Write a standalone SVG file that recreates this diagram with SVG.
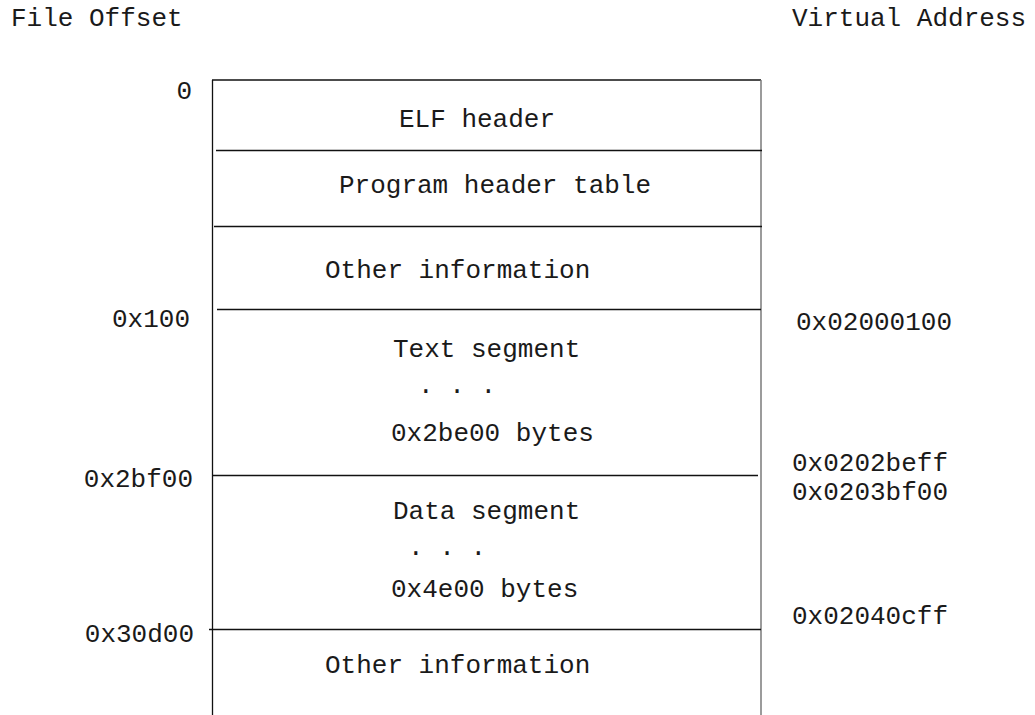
<svg xmlns="http://www.w3.org/2000/svg" width="1035" height="715" viewBox="0 0 1035 715">
<style>
text{font-family:"Liberation Mono","Courier New",monospace;font-size:26px;fill:#1a1a1a}
.end{text-anchor:end}
.sep{stroke:#111;stroke-width:1.3;fill:none}
.rb{stroke:#7a7a7a;stroke-width:1.5;fill:none}
</style>
<rect width="1035" height="715" fill="#fff"/>
<g id="headers">
<text x="11" y="26">File Offset</text>
<text x="792" y="26">Virtual Address</text>
</g>
<g id="connectors">
<line class="sep" x1="212" y1="80" x2="761" y2="80"/>
<line class="sep" x1="212.5" y1="80" x2="212.5" y2="715"/>
<line class="rb" x1="761" y1="80" x2="761" y2="715"/>
<line class="sep" x1="216" y1="150.5" x2="762" y2="150.5"/>
<line class="sep" x1="214" y1="226.5" x2="762" y2="226.5"/>
<line class="sep" x1="217" y1="309.5" x2="761" y2="309.5"/>
<line class="sep" x1="212" y1="475.5" x2="758" y2="475.5"/>
<line class="sep" x1="209" y1="629.5" x2="761" y2="629.5"/>
</g>
<g id="elf-header"><text x="399" y="127">ELF header</text></g>
<g id="program-header-table"><text x="339" y="193">Program header table</text></g>
<g id="other-info-1"><text x="325" y="278">Other information</text></g>
<g id="text-segment">
<text x="393" y="357">Text segment</text>
<text x="418" y="393">. . .</text>
<text x="391" y="441">0x2be00 bytes</text>
</g>
<g id="data-segment">
<text x="393" y="519">Data segment</text>
<text x="408" y="555">. . .</text>
<text x="391" y="597">0x4e00 bytes</text>
</g>
<g id="other-info-2"><text x="325" y="673">Other information</text></g>
<g id="offsets">
<text class="end" x="192" y="99">0</text>
<text class="end" x="190" y="327">0x100</text>
<text class="end" x="193" y="487">0x2bf00</text>
<text class="end" x="194" y="642">0x30d00</text>
</g>
<g id="addresses">
<text x="796" y="330">0x02000100</text>
<text x="792" y="471">0x0202beff</text>
<text x="792" y="500">0x0203bf00</text>
<text x="792" y="624">0x02040cff</text>
</g>
</svg>
